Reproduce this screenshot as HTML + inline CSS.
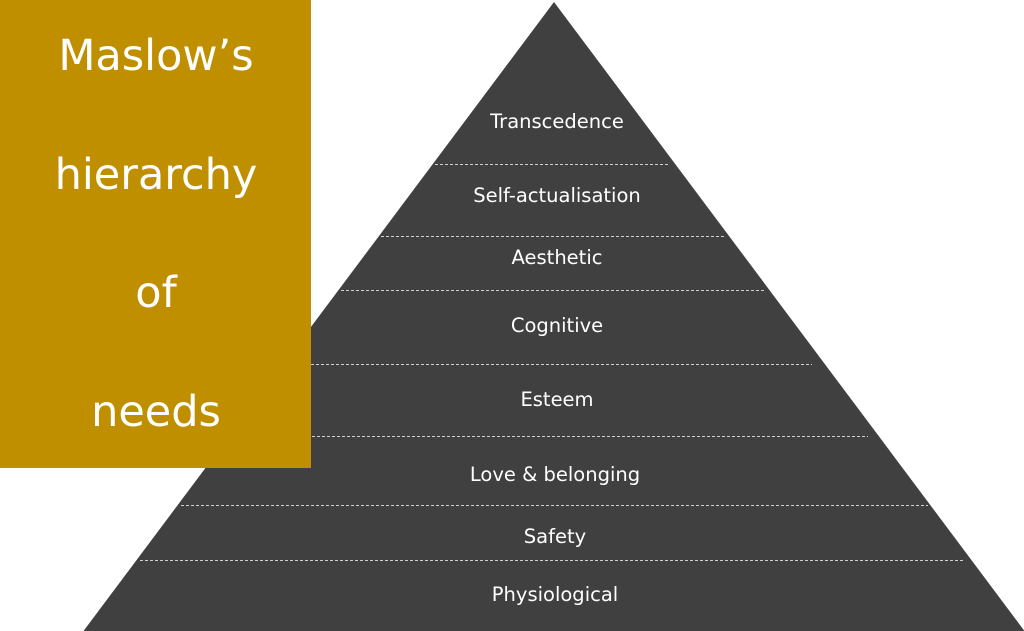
<!DOCTYPE html>
<html><head><style>
html,body{margin:0;padding:0;background:#fff;width:1024px;height:631px;overflow:hidden}
svg{display:block}
text{font-family:"Comic Sans MS","DejaVu Sans","Liberation Sans",sans-serif;fill:#fff;text-anchor:middle}
</style></head><body>
<svg width="1024" height="631" viewBox="0 0 1024 631">
<polygon points="554,2 1026,633 82,633" fill="#404040"/>
<g stroke="#cfcfcf" stroke-width="1" stroke-dasharray="3,2">
<line x1="435" y1="164.5" x2="670" y2="164.5"/>
<line x1="381" y1="236.5" x2="724" y2="236.5"/>
<line x1="341" y1="290.5" x2="764" y2="290.5"/>
<line x1="286" y1="364.5" x2="812" y2="364.5"/>
<line x1="232" y1="436.5" x2="868" y2="436.5"/>
<line x1="181" y1="505.5" x2="928" y2="505.5"/>
<line x1="140" y1="560.5" x2="963" y2="560.5"/>
</g>
<g font-size="19.5" font-weight="500">
<text x="557" y="128">Transcedence</text>
<text x="557" y="202">Self-actualisation</text>
<text x="557" y="264">Aesthetic</text>
<text x="557" y="332">Cognitive</text>
<text x="557" y="406">Esteem</text>
<text x="555" y="481">Love &amp; belonging</text>
<text x="555" y="543">Safety</text>
<text x="555" y="601">Physiological</text>
</g>
<rect x="0" y="0" width="311" height="468" fill="#BF8F00"/>
<g font-size="43">
<text x="156" y="70">Maslow’s</text>
<text x="156" y="189">hierarchy</text>
<text x="156" y="307">of</text>
<text x="156" y="426">needs</text>
</g>
</svg>
</body></html>
